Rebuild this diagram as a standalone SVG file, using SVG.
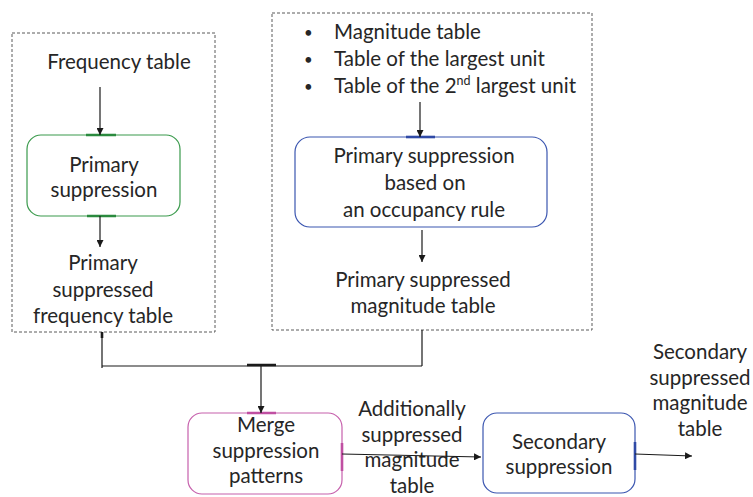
<svg xmlns="http://www.w3.org/2000/svg" width="753" height="497" viewBox="0 0 753 497">
  <style>
    text { font-family: Lato, "Liberation Sans", sans-serif; font-size: 20.5px; fill: #262626; }
    .mid { text-anchor: middle; }
    .dot { font-size: 15px; }
    .frame { fill: none; stroke: #5a5a5a; stroke-width: 1; stroke-dasharray: 3 2; }
    .node { fill: #ffffff; stroke-width: 1.2; }
    .green { stroke: #3a9a4c; }
    .blue { stroke: #3b56b0; }
    .pink { stroke: #c660ac; }
    .port { stroke-width: 2.6; fill: none; }
    .link { fill: none; stroke: #1a1a1a; stroke-width: 1.2; }
    .bar { fill: none; stroke: #1a1a1a; stroke-width: 2.6; }
  </style>
  <defs>
    <marker id="arrow" viewBox="0 0 10 10" refX="10" refY="5" markerWidth="7" markerHeight="7" markerUnits="userSpaceOnUse" orient="auto">
      <path d="M0,0 L10,5 L0,10 z" fill="#1a1a1a"/>
    </marker>
  </defs>

  <rect width="753" height="497" fill="#ffffff"/>

  <!-- dashed group frames -->
  <g id="frequency-frame">
    <rect class="frame" x="12" y="33" width="203" height="299"/>
    <text class="mid" x="119" y="69">Frequency table</text>
    <text class="mid" x="103" y="270">Primary</text>
    <text class="mid" x="103" y="297">suppressed</text>
    <text class="mid" x="103" y="323">frequency table</text>
  </g>

  <g id="magnitude-frame">
    <rect class="frame" x="272" y="13" width="320" height="317"/>
    <text class="dot" x="304" y="38">•</text>
    <text x="334" y="39">Magnitude table</text>
    <text class="dot" x="304" y="65">•</text>
    <text x="334" y="66">Table of the largest unit</text>
    <text class="dot" x="304" y="92">•</text>
    <text x="334" y="93">Table of the 2<tspan font-size="12.5" dy="-8">nd</tspan><tspan dy="8"> largest unit</tspan></text>
    <text class="mid" x="423" y="287">Primary suppressed</text>
    <text class="mid" x="423" y="313">magnitude table</text>
  </g>

  <!-- process nodes -->
  <g id="primary-suppression">
    <rect class="node green" x="27" y="135" width="153" height="81" rx="14"/>
    <path class="port" stroke="#2a8a3e" d="M86,135 H116 M87,216 H116"/>
    <text class="mid" x="104" y="172">Primary</text>
    <text class="mid" x="104" y="197">suppression</text>
  </g>

  <g id="occupancy-suppression">
    <rect class="node blue" x="295" y="137" width="252" height="90" rx="15"/>
    <path class="port" stroke="#2f4aa6" d="M406,137 H435"/>
    <text class="mid" x="424" y="163">Primary suppression</text>
    <text class="mid" x="425" y="190">based on</text>
    <text class="mid" x="424" y="217">an occupancy rule</text>
  </g>

  <g id="merge-patterns">
    <rect class="node pink" x="188" y="413" width="154" height="81" rx="14"/>
    <path class="port" stroke="#c04fa2" d="M247,413 H276 M342,443 V471"/>
    <text class="mid" x="266" y="432">Merge</text>
    <text class="mid" x="266" y="458">suppression</text>
    <text class="mid" x="266" y="483">patterns</text>
  </g>

  <g id="secondary-suppression">
    <rect class="node blue" x="483" y="413" width="152" height="80" rx="14"/>
    <path class="port" stroke="#2f4aa6" d="M635,442 V470"/>
    <text class="mid" x="559" y="449">Secondary</text>
    <text class="mid" x="559" y="474">suppression</text>
  </g>

  <g id="additional-label">
    <text class="mid" x="412" y="416">Additionally</text>
    <text class="mid" x="412" y="442">suppressed</text>
    <text class="mid" x="412" y="467">magnitude</text>
    <text class="mid" x="412" y="493">table</text>
  </g>

  <g id="secondary-output">
    <text class="mid" x="700" y="359">Secondary</text>
    <text class="mid" x="700" y="385">suppressed</text>
    <text class="mid" x="700" y="410">magnitude</text>
    <text class="mid" x="700" y="436">table</text>
  </g>

  <!-- connectors -->
  <g id="connectors">
    <path class="link" marker-end="url(#arrow)" d="M100,87 V135"/>
    <path class="link" marker-end="url(#arrow)" d="M100,216 V247"/>
    <path class="link" marker-end="url(#arrow)" d="M420,102 V137"/>
    <path class="link" marker-end="url(#arrow)" d="M422,230 V262"/>
    <path class="link" d="M102,332 V368 M102,366 H422 M422,330 V366"/>
    <path class="bar" d="M102,332 V338 M247,365 H276"/>
    <path class="link" marker-end="url(#arrow)" d="M261,366 V413"/>
    <path class="link" marker-end="url(#arrow)" d="M342,454 L481,457"/>
    <path class="link" marker-end="url(#arrow)" d="M635,454 L692,456"/>
  </g>
</svg>
